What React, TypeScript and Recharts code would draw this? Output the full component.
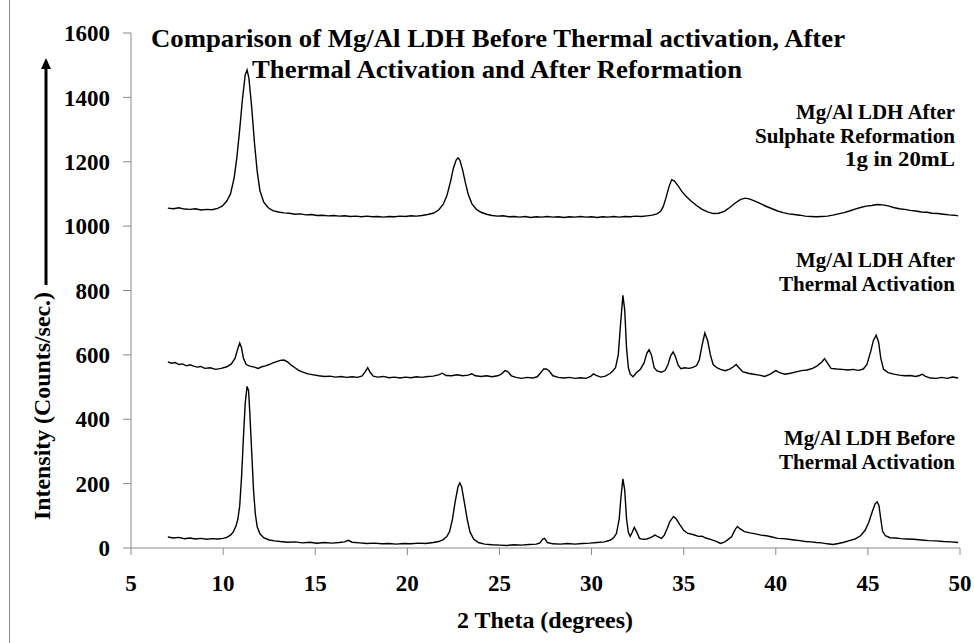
import React from "react";
import { LineChart, Line, XAxis, YAxis } from "recharts";

// 2θ (degrees) vs counts/sec, one list per sample
const beforeActivation: [number, number][] = [
  [7.0, 34], [7.3, 31], [7.6, 33], [7.9, 29], [8.2, 31], [8.5, 28], [8.8, 30], [9.1, 27],
  [9.4, 29], [9.7, 28], [10.0, 30], [10.2, 33], [10.4, 40], [10.55, 50], [10.7, 68],
  [10.8, 90], [10.9, 130], [11.0, 220], [11.1, 340], [11.2, 450], [11.3, 502], [11.38, 490],
  [11.45, 420], [11.55, 300], [11.65, 180], [11.75, 105], [11.85, 66], [12.0, 44], [12.2, 32],
  [12.5, 25], [12.8, 22], [13.1, 20], [13.5, 18], [13.9, 19], [14.3, 16], [14.7, 18],
  [15.1, 15], [15.5, 17], [15.9, 15], [16.3, 17], [16.6, 19], [16.8, 24], [17.0, 18],
  [17.4, 16], [17.8, 14], [18.2, 15], [18.6, 13], [19.0, 14], [19.4, 12], [19.8, 14],
  [20.2, 13], [20.6, 15], [21.0, 14], [21.4, 17], [21.7, 20], [21.95, 26], [22.15, 36],
  [22.3, 52], [22.45, 90], [22.6, 145], [22.75, 190], [22.85, 202], [22.95, 190], [23.1, 140],
  [23.25, 90], [23.4, 50], [23.6, 28], [23.85, 17], [24.2, 12], [24.6, 10], [25.0, 9],
  [25.4, 8], [25.8, 10], [26.2, 9], [26.6, 11], [27.0, 12], [27.2, 16], [27.35, 28],
  [27.45, 30], [27.6, 17], [27.9, 13], [28.3, 12], [28.7, 14], [29.1, 12], [29.5, 14],
  [29.9, 15], [30.3, 17], [30.7, 19], [31.0, 24], [31.2, 32], [31.35, 45], [31.5, 90],
  [31.6, 160], [31.7, 215], [31.8, 180], [31.9, 90], [32.0, 48], [32.1, 36], [32.2, 48],
  [32.32, 64], [32.45, 50], [32.6, 30], [32.8, 27], [33.0, 28], [33.2, 32], [33.45, 40],
  [33.6, 35], [33.8, 30], [33.95, 40], [34.1, 60], [34.25, 82], [34.45, 98], [34.6, 90],
  [34.8, 72], [35.0, 55], [35.2, 46], [35.5, 42], [35.8, 36], [36.0, 37], [36.2, 31],
  [36.5, 26], [36.8, 20], [37.0, 14], [37.2, 18], [37.4, 26], [37.6, 35], [37.8, 58],
  [37.92, 67], [38.05, 60], [38.3, 51], [38.6, 47], [38.9, 44], [39.2, 40], [39.5, 38],
  [39.8, 34], [40.1, 30], [40.4, 29], [40.7, 27], [41.0, 25], [41.3, 23], [41.6, 20],
  [41.9, 19], [42.2, 17], [42.5, 16], [42.8, 13], [43.1, 11], [43.4, 14], [43.7, 18],
  [44.0, 23], [44.3, 28], [44.6, 38], [44.85, 55], [45.05, 80], [45.25, 115], [45.4, 138],
  [45.5, 143], [45.6, 132], [45.7, 90], [45.8, 52], [45.95, 38], [46.2, 32], [46.5, 31],
  [46.8, 29], [47.1, 28], [47.5, 27], [47.9, 25], [48.3, 23], [48.7, 22], [49.1, 20],
  [49.5, 19], [49.9, 17],
];

const afterActivation: [number, number][] = [
  [7.0, 578], [7.2, 574], [7.4, 576], [7.6, 570], [7.8, 572], [8.0, 566], [8.2, 569],
  [8.4, 565], [8.6, 562], [8.8, 564], [9.0, 558], [9.3, 560], [9.6, 555], [9.9, 558],
  [10.2, 563], [10.45, 572], [10.65, 590], [10.8, 620], [10.9, 637], [11.0, 622], [11.1, 590],
  [11.25, 570], [11.45, 565], [11.7, 562], [11.9, 558], [12.1, 563], [12.3, 566], [12.5, 570],
  [12.7, 575], [12.9, 579], [13.1, 583], [13.3, 584], [13.5, 578], [13.7, 568], [13.9, 560],
  [14.1, 552], [14.3, 547], [14.6, 541], [14.9, 538], [15.2, 535], [15.5, 533], [15.8, 534],
  [16.1, 531], [16.4, 533], [16.7, 530], [17.0, 532], [17.3, 530], [17.55, 535], [17.72, 548],
  [17.85, 560], [17.98, 546], [18.15, 534], [18.4, 531], [18.7, 533], [19.0, 529], [19.3, 531],
  [19.6, 528], [19.9, 531], [20.2, 529], [20.5, 532], [20.8, 530], [21.1, 533], [21.4, 534],
  [21.7, 538], [21.9, 543], [22.1, 536], [22.4, 535], [22.7, 538], [23.0, 535], [23.3, 537],
  [23.5, 541], [23.7, 535], [24.0, 533], [24.3, 535], [24.6, 532], [24.9, 535], [25.1, 540],
  [25.3, 551], [25.45, 548], [25.65, 535], [25.9, 530], [26.2, 527], [26.5, 530], [26.8, 528],
  [27.05, 532], [27.25, 545], [27.4, 556], [27.55, 556], [27.7, 550], [27.9, 535], [28.2, 530],
  [28.5, 528], [28.8, 530], [29.1, 527], [29.4, 529], [29.7, 527], [29.95, 533], [30.1, 541],
  [30.25, 536], [30.5, 531], [30.75, 534], [31.0, 542], [31.15, 550], [31.3, 560], [31.45, 600],
  [31.58, 700], [31.7, 785], [31.8, 740], [31.9, 620], [32.0, 560], [32.1, 540], [32.25, 532],
  [32.45, 545], [32.65, 555], [32.85, 575], [33.0, 605], [33.12, 616], [33.25, 600], [33.4, 560],
  [33.55, 550], [33.8, 546], [34.0, 552], [34.15, 570], [34.3, 598], [34.43, 609], [34.55, 595],
  [34.7, 568], [34.85, 557], [35.05, 560], [35.3, 558], [35.5, 561], [35.7, 567], [35.85, 585],
  [36.0, 630], [36.15, 668], [36.3, 645], [36.45, 600], [36.6, 570], [36.8, 560], [37.0, 555],
  [37.25, 551], [37.5, 556], [37.7, 563], [37.85, 570], [38.0, 560], [38.2, 548], [38.5, 543],
  [38.8, 540], [39.1, 537], [39.4, 533], [39.7, 540], [40.0, 551], [40.2, 545], [40.5, 540],
  [40.8, 543], [41.1, 547], [41.4, 551], [41.7, 553], [42.0, 558], [42.25, 566], [42.5, 578],
  [42.65, 588], [42.8, 575], [43.0, 558], [43.3, 556], [43.6, 555], [43.9, 553], [44.2, 555],
  [44.5, 552], [44.75, 556], [44.95, 570], [45.15, 610], [45.3, 645], [45.45, 661], [45.58, 640],
  [45.7, 590], [45.85, 555], [46.1, 545], [46.4, 540], [46.7, 537], [47.0, 535], [47.3, 536],
  [47.6, 533], [47.8, 536], [47.95, 540], [48.1, 534], [48.4, 528], [48.7, 527], [49.0, 530],
  [49.3, 527], [49.6, 531], [49.9, 528],
];

const afterReformation: [number, number][] = [
  [7.0, 1056], [7.3, 1054], [7.6, 1057], [7.9, 1053], [8.2, 1052], [8.5, 1054], [8.8, 1050],
  [9.1, 1052], [9.4, 1051], [9.7, 1055], [9.95, 1062], [10.2, 1078], [10.4, 1100], [10.6, 1150],
  [10.75, 1215], [10.9, 1300], [11.05, 1395], [11.2, 1470], [11.3, 1485], [11.4, 1460],
  [11.55, 1370], [11.7, 1260], [11.85, 1170], [12.0, 1110], [12.2, 1075], [12.45, 1057],
  [12.7, 1048], [13.0, 1044], [13.3, 1041], [13.6, 1040], [13.9, 1037], [14.2, 1038],
  [14.5, 1035], [14.8, 1036], [15.1, 1033], [15.4, 1034], [15.7, 1032], [16.0, 1033],
  [16.3, 1031], [16.6, 1032], [16.9, 1030], [17.2, 1031], [17.5, 1029], [17.8, 1031],
  [18.1, 1029], [18.4, 1030], [18.7, 1028], [19.0, 1030], [19.3, 1029], [19.6, 1031],
  [19.9, 1030], [20.2, 1032], [20.5, 1031], [20.8, 1033], [21.1, 1036], [21.4, 1040],
  [21.7, 1050], [21.95, 1068], [22.15, 1095], [22.35, 1140], [22.5, 1180], [22.65, 1205],
  [22.75, 1212], [22.85, 1205], [23.0, 1175], [23.15, 1135], [23.3, 1100], [23.5, 1070],
  [23.75, 1052], [24.0, 1043], [24.3, 1037], [24.6, 1033], [24.9, 1031], [25.2, 1032],
  [25.5, 1029], [25.8, 1030], [26.1, 1028], [26.4, 1030], [26.7, 1027], [27.0, 1029],
  [27.3, 1028], [27.6, 1030], [27.9, 1028], [28.2, 1029], [28.5, 1027], [28.8, 1029],
  [29.1, 1028], [29.4, 1030], [29.7, 1028], [30.0, 1029], [30.3, 1027], [30.6, 1029],
  [30.9, 1028], [31.2, 1030], [31.5, 1028], [31.8, 1030], [32.1, 1029], [32.4, 1031],
  [32.7, 1030], [33.0, 1032], [33.3, 1034], [33.55, 1038], [33.75, 1046], [33.9, 1062],
  [34.05, 1090], [34.2, 1122], [34.35, 1144], [34.5, 1140], [34.7, 1125], [34.9, 1108],
  [35.1, 1094], [35.4, 1078], [35.7, 1064], [36.0, 1052], [36.3, 1044], [36.6, 1039],
  [36.9, 1040], [37.2, 1046], [37.5, 1058], [37.8, 1072], [38.1, 1083], [38.35, 1087],
  [38.6, 1084], [38.9, 1077], [39.2, 1069], [39.5, 1061], [39.8, 1054], [40.1, 1047],
  [40.4, 1042], [40.7, 1038], [41.0, 1036], [41.3, 1034], [41.6, 1031], [41.9, 1030],
  [42.2, 1029], [42.5, 1030], [42.8, 1031], [43.1, 1034], [43.4, 1038], [43.7, 1042],
  [44.0, 1047], [44.3, 1053], [44.6, 1058], [44.9, 1062], [45.2, 1064], [45.5, 1067],
  [45.8, 1066], [46.1, 1063], [46.4, 1058], [46.7, 1054], [47.0, 1052], [47.3, 1049],
  [47.6, 1047], [47.9, 1044], [48.2, 1043], [48.5, 1040], [48.8, 1039], [49.1, 1037],
  [49.4, 1035], [49.7, 1034], [49.9, 1032],
];

const xTicks = [5, 10, 15, 20, 25, 30, 35, 40, 45, 50];
const yTicks = [0, 200, 400, 600, 800, 1000, 1200, 1400, 1600];

const titleLines = [
  "Comparison of Mg/Al LDH Before Thermal activation, After",
  "Thermal Activation and After Reformation",
];
const reformationLabel = ["Mg/Al LDH  After", "Sulphate Reformation", "1g in 20mL"];
const activatedLabel = ["Mg/Al LDH  After", "Thermal Activation"];
const untreatedLabel = ["Mg/Al LDH  Before", "Thermal Activation"];

const toPoints = (rows: [number, number][]) => rows.map(([theta, counts]) => ({ theta, counts }));

const FONT = "'Liberation Serif', 'Times New Roman', serif";
const AXIS_GREY = "#898989";

const tickStyle = { fill: "#000", fontFamily: FONT, fontWeight: 700, fontSize: 23 };

// right-aligned annotation block; widths keep the Excel text metrics
const Block = ({ lines, widths, x, y, step }: { lines: string[]; widths: number[]; x: number; y: number; step: number }) => (
  <>
    {lines.map((t, i) => (
      <text
        key={i}
        x={x - widths[i]}
        y={y + i * step}
        fontSize={21}
        textLength={widths[i]}
        lengthAdjust="spacingAndGlyphs"
      >
        {t}
      </text>
    ))}
  </>
);

export default function App() {
  return (
    <div style={{ position: "absolute", left: 0, top: 0, width: 974, height: 643, background: "#fff" }}>
      <LineChart
        width={974}
        height={643}
        margin={{ top: 33, right: 14, bottom: 55, left: 71 }}
      >
        <XAxis
          dataKey="theta"
          type="number"
          domain={[5, 50]}
          ticks={xTicks}
          height={40}
          tickSize={7}
          tickMargin={20}
          stroke={AXIS_GREY}
          tick={tickStyle}
          allowDuplicatedCategory={false}
        />
        <YAxis
          type="number"
          domain={[0, 1600]}
          ticks={yTicks}
          width={60}
          tickSize={8}
          tickMargin={13}
          stroke={AXIS_GREY}
          tick={tickStyle}
        />
        <Line data={toPoints(beforeActivation)} dataKey="counts" type="linear" stroke="#000" strokeWidth={1.4} dot={false} isAnimationActive={false} />
        <Line data={toPoints(afterActivation)} dataKey="counts" type="linear" stroke="#000" strokeWidth={1.4} dot={false} isAnimationActive={false} />
        <Line data={toPoints(afterReformation)} dataKey="counts" type="linear" stroke="#000" strokeWidth={1.4} dot={false} isAnimationActive={false} />
      </LineChart>

      <svg
        width={974}
        height={643}
        style={{ position: "absolute", left: 0, top: 0, pointerEvents: "none" }}
        fontFamily={FONT}
        fontWeight={700}
        fill="#000"
      >
        <line x1={9.5} y1={0} x2={9.5} y2={643} stroke={AXIS_GREY} strokeWidth={1} />

        <text x={151} y={47} fontSize={26} textLength={694} lengthAdjust="spacingAndGlyphs">
          {titleLines[0]}
        </text>
        <text x={252} y={78} fontSize={26} textLength={490} lengthAdjust="spacingAndGlyphs">
          {titleLines[1]}
        </text>

        <Block lines={reformationLabel} widths={[159, 200, 110]} x={955} y={119} step={23.5} />
        <Block lines={activatedLabel} widths={[159, 176]} x={955} y={267} step={23.5} />
        <Block lines={untreatedLabel} widths={[171, 176]} x={955} y={445} step={23.5} />

        <text x={457} y={628} fontSize={24} textLength={176} lengthAdjust="spacingAndGlyphs">
          2 Theta (degrees)
        </text>
        <text
          x={50}
          y={520}
          fontSize={23}
          textLength={228}
          lengthAdjust="spacingAndGlyphs"
          transform="rotate(-90 50 520)"
        >
          Intensity (Counts/sec.)
        </text>

        <line x1={46} y1={285} x2={46} y2={68} stroke="#000" strokeWidth={3} />
        <polygon points="46,58 41,69 51,69" fill="#000" />
      </svg>
    </div>
  );
}
